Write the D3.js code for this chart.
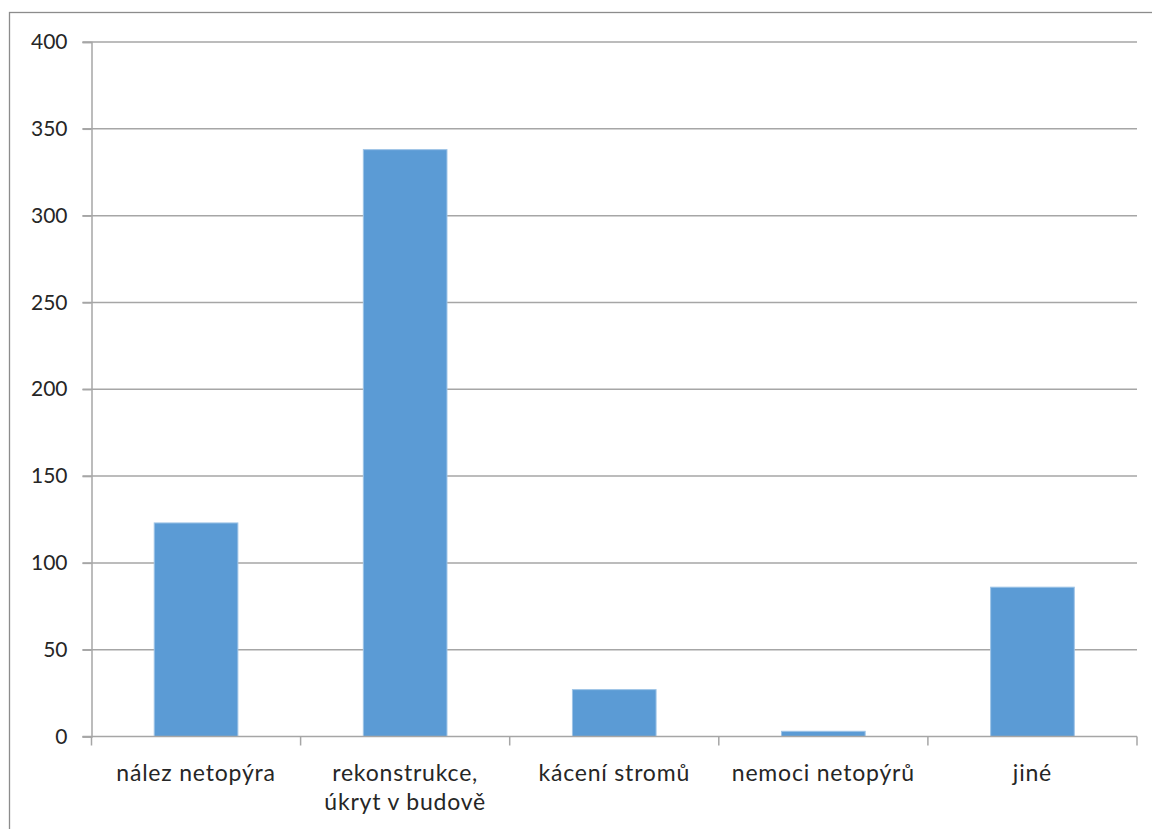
<!DOCTYPE html>
<html lang="cs">
<head>
  <meta charset="UTF-8">
  <title>bar chart</title>
  <script src="https://cdn.jsdelivr.net/npm/d3@7"></script>
  <style>
    html, body { margin: 0; padding: 0; background: #fff; }
    svg { display: block; }
  </style>
</head>
<body>
<svg></svg>
<script>
  const width = 1152, height = 829
  const margin = {top: 42, right: 15, bottom: 92.5, left: 91.5}

  const categories = ['nález netopýra', 'rekonstrukce,\núkryt v budově', 'kácení stromů', 'nemoci netopýrů', 'jiné']
  const values = [123, 338, 27, 3, 86]
  const yTicks = [0, 50, 100, 150, 200, 250, 300, 350, 400]

  const svg = d3.select('svg')
      .attr('width', width)
      .attr('height', height)
      .attr('viewBox', [0, 0, width, height])
      .style('font-family', 'Lato, sans-serif')

  // rámeček grafu
  svg.append('rect')
      .attr('x', 9.5).attr('y', 12.5)
      .attr('width', width + 20).attr('height', height + 20)
      .attr('fill', 'none')
      .attr('stroke', '#8c8c8c')
      .attr('stroke-width', 1.3)

  const x = d3.scaleBand()
      .domain(categories)
      .range([margin.left, width - margin.right])
      .paddingInner(0.6)
      .paddingOuter(0.3)

  const band = d3.scaleBand()
      .domain(categories)
      .range([margin.left, width - margin.right])

  const y = d3.scaleLinear()
      .domain([0, 400])
      .range([height - margin.bottom, margin.top])

  // mřížka
  svg.append('g')
      .selectAll('line')
      .data(yTicks.filter(d => d > 0))
      .join('line')
      .attr('x1', margin.left - 9)
      .attr('x2', width - margin.right)
      .attr('y1', d => y(d))
      .attr('y2', d => y(d))
      .attr('stroke', '#a6a6a6')
      .attr('stroke-width', 1.5)

  // sloupce
  svg.append('g')
      .selectAll('rect')
      .data(values)
      .join('rect')
      .attr('x', (d, i) => x(categories[i]))
      .attr('width', x.bandwidth())
      .attr('y', d => y(d))
      .attr('height', d => y(0) - y(d))
      .attr('fill', '#5b9bd5')
      .attr('stroke', '#9dc3e6')
      .attr('stroke-width', 1)

  // osa Y
  const yAxis = svg.append('g')
      .attr('transform', `translate(${margin.left},0)`)
      .call(d3.axisLeft(y).tickValues(yTicks).tickSize(9).tickPadding(15))
  yAxis.select('.domain').attr('stroke', '#a6a6a6').attr('stroke-width', 1.5)
  yAxis.selectAll('.tick line').attr('stroke', '#a6a6a6').attr('stroke-width', 1.5)
  yAxis.selectAll('.tick text')
      .attr('font-size', 21)
      .attr('font-family', 'Lato, sans-serif')
      .attr('fill', '#262626')

  // osa X
  const xg = svg.append('g')
      .attr('transform', `translate(0,${y(0)})`)
  xg.append('line')
      .attr('x1', margin.left - 9).attr('x2', width - margin.right)
      .attr('stroke', '#a6a6a6').attr('stroke-width', 1.5)
  const bounds = categories.map(c => band(c)).concat([width - margin.right])
  xg.selectAll('.ct')
      .data(bounds)
      .join('line')
      .attr('class', 'ct')
      .attr('x1', d => d).attr('x2', d => d)
      .attr('y1', 0).attr('y2', 9)
      .attr('stroke', '#a6a6a6').attr('stroke-width', 1.5)

  xg.selectAll('text')
      .data(categories)
      .join('text')
      .attr('x', d => band(d) + band.bandwidth() / 2)
      .attr('y', 44)
      .attr('text-anchor', 'middle')
      .attr('font-size', 23)
      .attr('letter-spacing', 0.8)
      .attr('fill', '#262626')
      .each(function(d) {
        d.split('\n').forEach((t, i) => {
          d3.select(this).append('tspan')
              .attr('x', band(d) + band.bandwidth() / 2)
              .attr('dy', i === 0 ? 0 : 29)
              .text(t)
        })
      })
</script>
</body>
</html>
